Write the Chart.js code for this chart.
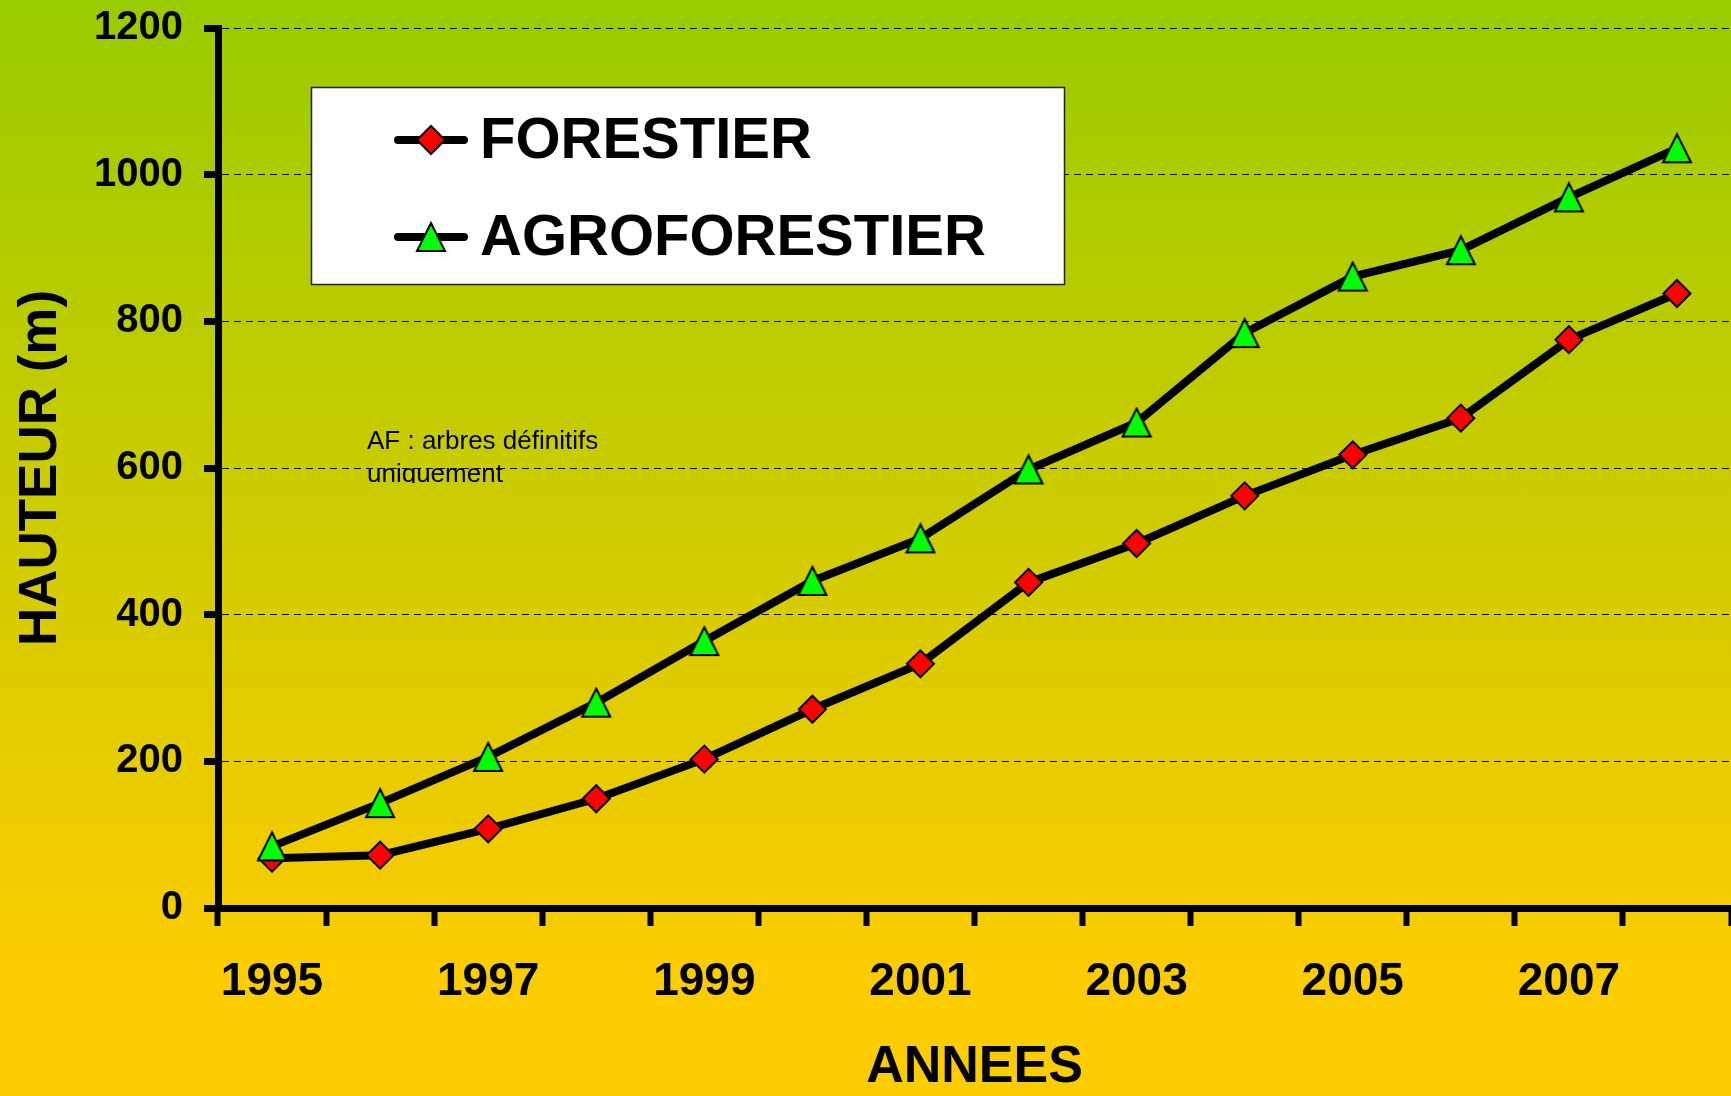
<!DOCTYPE html>
<html>
<head>
<meta charset="utf-8">
<script src="https://cdn.jsdelivr.net/npm/chart.js@4.4.1/dist/chart.umd.min.js"></script>
<style>
  html, body { margin: 0; padding: 0; }
  body {
    width: 1731px; height: 1096px; overflow: hidden;
    background: linear-gradient(to bottom, #99cc00 0%, #fbcc00 88%, #fbcc00 100%);
  }
  canvas { display: block; }
</style>
</head>
<body>
<canvas id="c" width="1731" height="1096"></canvas>
<script>
const years = ['1995', '1996', '1997', '1998', '1999', '2000', '2001',
               '2002', '2003', '2004', '2005', '2006', '2007', '2008'];
const forestier = [68, 72, 108, 149, 203, 271, 333, 444, 497, 562, 618, 668, 775, 838];
const agroforestier = [84, 143, 206, 280, 364, 446, 504, 598, 662, 784, 861, 897, 969, 1036];
const yMin = 0, yMax = 1200, yStep = 200;
const noteLines = ['AF : arbres définitifs', 'uniquement'];

const FONT = "'Liberation Sans', Arial, sans-serif";

// green triangle as a small canvas, centred on the point like the original
function triangleImage() {
  const c = document.createElement('canvas');
  c.width = 32; c.height = 32;
  const g = c.getContext('2d');
  g.beginPath();
  g.moveTo(16, 2); g.lineTo(30, 30); g.lineTo(2, 30);
  g.closePath();
  g.fillStyle = '#00ff00';
  g.fill();
  g.lineWidth = 2;
  g.lineJoin = 'miter';
  g.strokeStyle = '#000';
  g.stroke();
  return c;
}
const triImg = triangleImage();

function diamond(ctx, x, y, r) {
  ctx.beginPath();
  ctx.moveTo(x - r, y); ctx.lineTo(x, y - r);
  ctx.lineTo(x + r, y); ctx.lineTo(x, y + r);
  ctx.closePath();
  ctx.fillStyle = '#ff0000';
  ctx.fill();
  ctx.lineWidth = 2;
  ctx.strokeStyle = '#000';
  ctx.stroke();
}

const boxLegend = {
  id: 'boxLegend',
  afterDraw(chart) {
    const ctx = chart.ctx;
    ctx.save();
    ctx.fillStyle = '#fff';
    ctx.fillRect(311, 87, 754, 198);
    ctx.strokeStyle = '#222';
    ctx.lineWidth = 1.5;
    ctx.strokeRect(311.5, 87.5, 753, 197);

    const rows = chart.data.datasets.slice().sort((a, b) => b.order - a.order);
    rows.forEach((ds, i) => {
      const y = 140 + i * 97;
      ctx.strokeStyle = '#000';
      ctx.lineWidth = 8;
      ctx.lineCap = 'round';
      ctx.beginPath();
      ctx.moveTo(398, y);
      ctx.lineTo(464, y);
      ctx.stroke();
      if (ds.pointStyle === 'rectRot') diamond(ctx, 431, y, 14);
      else ctx.drawImage(ds.pointStyle, 431 - 16, y - 16);
      ctx.fillStyle = '#000';
      ctx.font = 'bold 58px ' + FONT;
      ctx.textBaseline = 'middle';
      ctx.textAlign = 'left';
      ctx.fillText(ds.label, 480, y + 2);
    });

    // note, clipped like the original text box
    ctx.beginPath();
    ctx.rect(360, 420, 260, 63);
    ctx.clip();
    ctx.font = '26px ' + FONT;
    ctx.textBaseline = 'alphabetic';
    noteLines.forEach((t, i) => ctx.fillText(t, 367, 449 + i * 33));
    ctx.restore();
  }
};

new Chart(document.getElementById('c'), {
  type: 'line',
  data: {
    labels: years,
    datasets: [
      {
        label: 'FORESTIER',
        data: forestier,
        order: 2,
        borderColor: '#000',
        borderWidth: 8,
        tension: 0,
        pointStyle: 'rectRot',
        pointRadius: 13.5,
        pointBackgroundColor: '#ff0000',
        pointBorderColor: '#000',
        pointBorderWidth: 2
      },
      {
        label: 'AGROFORESTIER',
        data: agroforestier,
        order: 1,
        borderColor: '#000',
        borderWidth: 8,
        tension: 0,
        pointStyle: triImg,
        pointRadius: 16,
        pointBackgroundColor: '#00ff00',
        pointBorderColor: '#000',
        pointBorderWidth: 2
      }
    ]
  },
  options: {
    responsive: false,
    animation: false,
    layout: { autoPadding: false, padding: { top: 28, right: 0, bottom: 0, left: 0 } },
    plugins: { legend: { display: false }, tooltip: { enabled: false } },
    scales: {
      x: {
        type: 'category',
        offset: true,
        grid: {
          display: true, offset: true, drawOnChartArea: false, drawTicks: true,
          tickLength: 18, tickWidth: 6, color: '#000', tickColor: '#000'
        },
        border: { display: true, width: 7, color: '#000' },
        ticks: {
          autoSkip: false, maxRotation: 0, minRotation: 0, padding: 29, color: '#000',
          font: { family: FONT, size: 46, weight: 'bold' },
          callback: (v, i) => (i % 2 === 0 ? years[i] : '')
        },
        title: {
          display: true, text: 'ANNEES', color: '#000',
          font: { family: FONT, size: 52, weight: 'bold', lineHeight: 1.1 },
          padding: { top: 0, bottom: 0 }
        },
        afterFit: s => { s.height = 188; }
      },
      y: {
        min: yMin, max: yMax,
        ticks: {
          stepSize: yStep, padding: 21, color: '#000',
          font: { family: FONT, size: 40, weight: 'bold', lineHeight: 0.2 },
          callback: v => String(v)
        },
        grid: { color: '#000', lineWidth: 1, tickLength: 14, tickWidth: 7, tickColor: '#000' },
        border: { display: true, width: 7, color: '#000', dash: [7, 5] },
        title: {
          display: true, text: 'HAUTEUR (m)', color: '#000',
          font: { family: FONT, size: 53, weight: 'bold' },
          padding: { top: 10, bottom: 0 }
        },
        afterFit: s => { s.width = 218; }
      }
    }
  },
  plugins: [boxLegend]
});
</script>
</body>
</html>
